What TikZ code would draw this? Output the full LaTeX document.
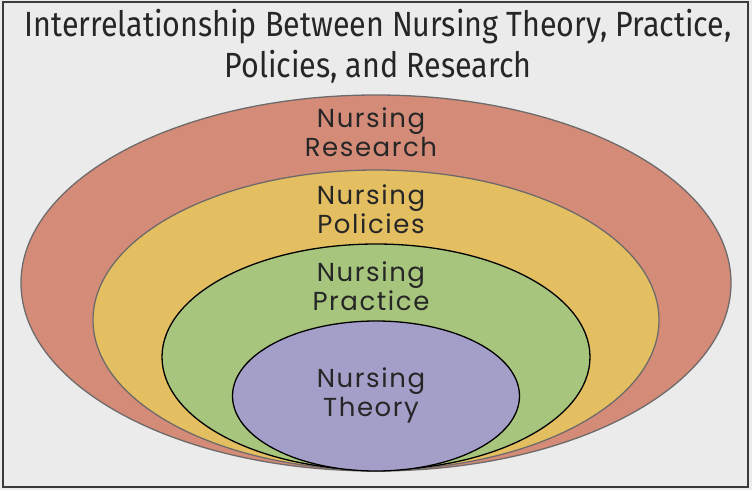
\documentclass[tikz,border=0pt]{standalone}
\usepackage{fontspec}
\setmainfont{Poppins}
\newfontfamily\titlefont[FakeStretch=0.87]{Fira Sans}
\newfontfamily\lblfont[LetterSpace=6]{Poppins}
\usetikzlibrary{shapes.geometric}
\definecolor{bgcol}{HTML}{EBEBEB}
\definecolor{framecol}{HTML}{3A3A3A}
\definecolor{edgegray}{HTML}{6E6A6A}
\definecolor{researchcol}{HTML}{D48C79}
\definecolor{policycol}{HTML}{E4BF62}
\definecolor{practicecol}{HTML}{A7C57D}
\definecolor{theorycol}{HTML}{A49FC8}

\begin{document}
\begin{tikzpicture}[x=1pt,y=-1pt,
    ring/.style={ellipse,inner sep=0pt,line width=1.3pt},
    lbl/.style={align=center,inner sep=0pt,text=black!85,font=\lblfont\fontsize{26}{29}\selectfont}]
    \fill[bgcol] (0,0) rectangle (752,490);
    \useasboundingbox (0,0) rectangle (752,490);
    \draw[framecol,line width=2.5pt] (3,2) rectangle (748,487);
    % Title
    \node[align=center,inner sep=0pt,text=black!85,font=\titlefont\fontsize{35}{41}\selectfont] (title) at (378,46)
        {Interrelationship Between Nursing Theory, Practice,\\ Policies, and Research};

    % Nested ellipses, outer to inner
    \node[ring,draw=edgegray,fill=researchcol,minimum width=710pt,minimum height=376pt] (research) at (376,283) {};
    \node[ring,draw=edgegray,fill=policycol,minimum width=566pt,minimum height=300pt] (policies) at (376,320) {};
    \node[ring,draw=black,fill=practicecol,minimum width=428pt,minimum height=226pt] (practice) at (376,357) {};
    \node[ring,draw=black,fill=theorycol,minimum width=287pt,minimum height=150pt] (theory) at (376,396) {};

    % Labels
    \node[lbl] (researchtxt) at (371,132) {Nursing\\ Research};
    \node[lbl] (policiestxt) at (371,209) {Nursing\\ Policies};
    \node[lbl] (practicetxt) at (371,286) {Nursing\\ Practice};
    \node[lbl] (theorytxt) at (371,395) {Nursing\\ Theory};
\end{tikzpicture}
\end{document}
